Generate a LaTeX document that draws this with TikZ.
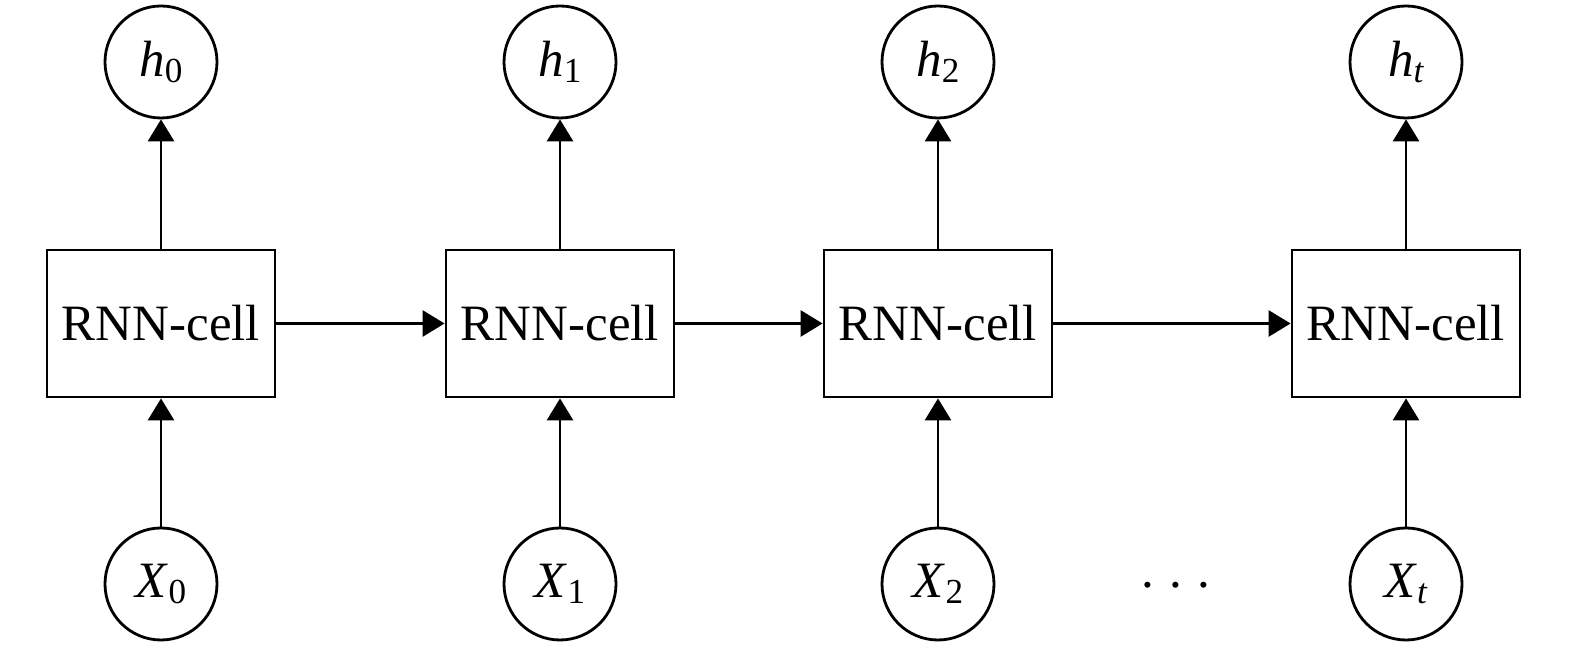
\documentclass[tikz,border=0pt]{standalone}
\usepackage{fontspec}
\setmainfont{Liberation Serif}
\usepackage{tikz}
\usetikzlibrary{arrows.meta}
\newcommand{\lowidx}[1]{\raisebox{-0.28ex}{\fontsize{20}{22}\selectfont #1}}

\begin{document}
\begin{tikzpicture}[>={Triangle[length=4.4mm,width=5.2mm]},line width=1.6pt,
  cell/.style={draw,minimum width=4.56cm,minimum height=2.94cm,inner sep=0pt,font=\fontsize{29}{34}\selectfont},
  state/.style={circle,draw,minimum size=2.24cm,inner sep=0pt,font=\fontsize{29}{34}\selectfont}]
  \useasboundingbox (0,0) rectangle (31.5,13);
  % cells
  \node[cell] (c0) at (3.22,6.53) {RNN-cell};
  \node[cell] (c1) at (11.2,6.53) {RNN-cell};
  \node[cell] (c2) at (18.76,6.53) {RNN-cell};
  \node[cell] (c3) at (28.12,6.53) {RNN-cell};
  % outputs
  \node[state] (h0) at (3.22,11.76) {\textit{h}\lowidx{0}};
  \node[state] (h1) at (11.2,11.76) {\textit{h}\lowidx{1}};
  \node[state] (h2) at (18.76,11.76) {\textit{h}\lowidx{2}};
  \node[state] (h3) at (28.12,11.76) {\textit{h}\lowidx{\textit{t}}};
  % inputs
  \node[state] (x0) at (3.22,1.32) {\textit{X}\lowidx{0}};
  \node[state] (x1) at (11.2,1.32) {\textit{X}\lowidx{1}};
  \node[state] (x2) at (18.76,1.32) {\textit{X}\lowidx{2}};
  \node[state] (x3) at (28.12,1.32) {\textit{X}\lowidx{\textit{t}}};
  \node[font=\fontsize{29}{34}\selectfont] (dots) at (23.52,1.3) {.\hspace{0.3cm}.\hspace{0.3cm}.};
  % connections
  \draw[->] (c0) -- (c1);
  \draw[->] (c1) -- (c2);
  \draw[->] (c2) -- (c3);
  \draw[->] (c0) -- (h0);
  \draw[->] (c1) -- (h1);
  \draw[->] (c2) -- (h2);
  \draw[->] (c3) -- (h3);
  \draw[->] (x0) -- (c0);
  \draw[->] (x1) -- (c1);
  \draw[->] (x2) -- (c2);
  \draw[->] (x3) -- (c3);
\end{tikzpicture}
\end{document}
